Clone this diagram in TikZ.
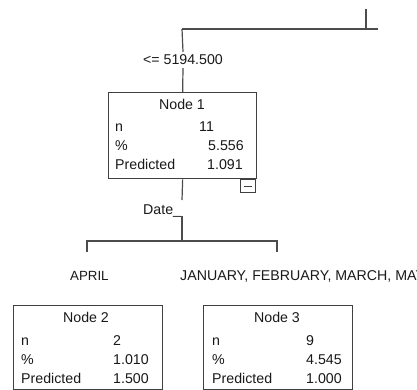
\documentclass[tikz,border=0pt]{standalone}
\usepackage{fontspec}
\setmainfont{Liberation Sans}
\begin{document}
\begin{tikzpicture}[x=1pt,y=-1pt,
  box/.style={draw=black!75,line width=1.3pt,fill=white,inner sep=0pt,anchor=north west},
  edge/.style={draw=black!70,line width=1.2pt},
  txt/.style={inner sep=0pt,anchor=base west,text=black!90,font=\fontsize{14.2}{17}\selectfont},
  ttl/.style={inner sep=0pt,anchor=base,text=black!90,font=\fontsize{14.2}{17}\selectfont},
  catlbl/.style={inner sep=0pt,anchor=base west,text=black!90,font=\fontsize{13.3}{16}\selectfont},
  lbl/.style={inner sep=3pt,text=black!90,font=\fontsize{14.2}{17}\selectfont}]
\useasboundingbox (0,0) rectangle (417,390);
\clip (0,0) rectangle (417,390);
% top connectors
\coordinate (top) at (366,9);
\coordinate (jr) at (366,29);
\coordinate (hl) at (182,29);
\coordinate (hr) at (378,29);
\draw[edge,line width=1.6pt] (top) -- (jr);
\draw[edge,line width=1.4pt] (hl) -- (hr);
\node[lbl] (split1) at (183,60) {<= 5194.500};
% node 1
\node[box,minimum width=148pt,minimum height=86pt] (n1) at (108,92) {};
\draw[edge] (hl) -- (split1.north);
\draw[edge] (split1.south) -- (n1.north);
\node[ttl] (n1t) at (182,110) {Node 1};
\node[txt] (n1a) at (115,132) {n};
\node[txt] (n1b) at (115,151) {\%};
\node[txt] (n1c) at (115,169) {Predicted};
\node[txt] (n1av) at (199,132) {11};
\node[txt] (n1bv) at (208,151) {5.556};
\node[txt] (n1cv) at (207,169) {1.091};
\node[draw=black!75,line width=1pt,minimum width=15pt,minimum height=13pt,inner sep=0pt,anchor=north east] (mb) at (256,179) {};
\draw[black!75,line width=1pt] ([xshift=4pt]mb.west) -- ([xshift=-4pt]mb.east);
% date split
\coordinate (d1) at (182,200);
\coordinate (d2) at (182,216);
\coordinate (j2) at (182,241);
\coordinate (l2) at (87,241);
\coordinate (r2) at (277,241);
\coordinate (l2b) at (87,252);
\coordinate (r2b) at (277,252);
\draw[edge] (n1.south) -- (d1);
\node[txt] (datel) at (143,214) {Date\_};
\draw[edge] (d2) -- (j2);
\draw[edge] (l2b) -- (l2) -- (r2) -- (r2b);
\node[catlbl] (aprl) at (70,280) {APRIL};
\node[catlbl,font=\fontsize{14.2}{17}\selectfont] (janl) at (180,280) {JANUARY, FEBRUARY, MARCH, MAY};
% node 2
\node[box,minimum width=149pt,minimum height=84pt] (n2) at (13,305) {};
\node[ttl] (n2t) at (86,322) {Node 2};
\node[txt] (n2a) at (21,345) {n};
\node[txt] (n2b) at (21,364) {\%};
\node[txt] (n2c) at (21,383) {Predicted};
\node[txt] (n2av) at (113,345) {2};
\node[txt] (n2bv) at (113,364) {1.010};
\node[txt] (n2cv) at (113,383) {1.500};
% node 3
\node[box,minimum width=149pt,minimum height=84pt] (n3) at (203,305) {};
\node[ttl] (n3t) at (277,322) {Node 3};
\node[txt] (n3a) at (212,345) {n};
\node[txt] (n3b) at (212,364) {\%};
\node[txt] (n3c) at (212,383) {Predicted};
\node[txt] (n3av) at (306,345) {9};
\node[txt] (n3bv) at (306,364) {4.545};
\node[txt] (n3cv) at (306,383) {1.000};
\end{tikzpicture}
\end{document}
